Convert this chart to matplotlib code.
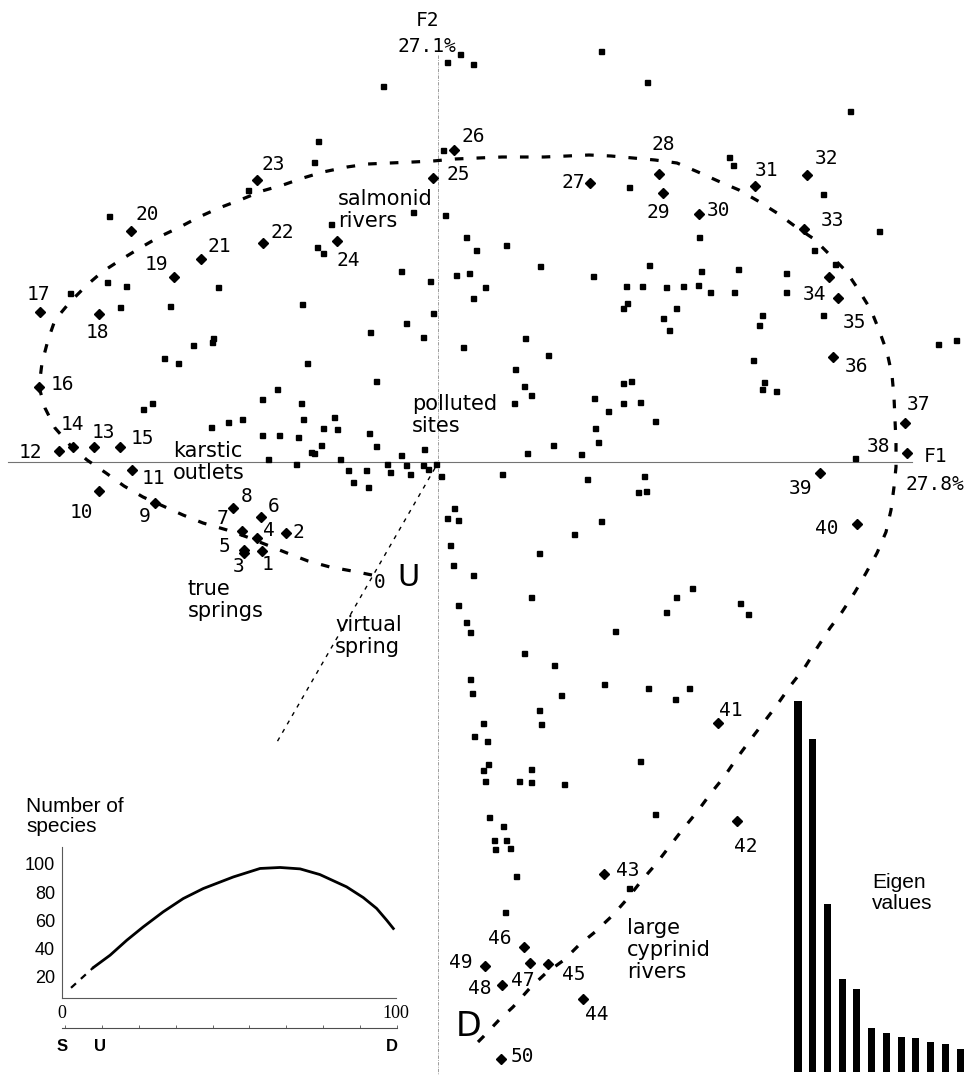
import numpy as np
import matplotlib
matplotlib.use("Agg")
import matplotlib.pyplot as plt
from matplotlib.ticker import MultipleLocator

# --- site scores on F1 / F2 (sites 1..50) ---
site_f1 = [-1.76, -1.52, -1.94, -1.81, -1.94, -1.77, -1.96, -2.05, -2.83, -3.39,
           -3.06, -3.79, -3.44, -3.65, -3.18, -3.99, -3.98, -3.39, -2.64, -3.07,
           -2.37, -1.75, -1.81, -1.01, -0.05, 0.16, 1.52, 2.21, 2.25, 2.61,
           3.17, 3.69, 3.66, 3.91, 4.00, 3.95, 4.67, 4.69, 3.82, 4.19,
           2.80, 2.99, 1.66, 1.45, 1.10, 0.86, 0.92, 0.64, 0.47, 0.63]
site_f2 = [-0.89, -0.71, -0.91, -0.76, -0.88, -0.55, -0.69, -0.46, -0.41, -0.29,
           -0.08, 0.11, 0.15, 0.15, 0.15, 0.75, 1.50, 1.48, 1.85, 2.31,
           2.03, 2.19, 2.82, 2.21, 2.84, 3.12, 2.79, 2.88, 2.69, 2.48,
           2.76, 2.87, 2.33, 1.85, 1.64, 1.05, 0.39, 0.09, -0.11, -0.62,
           -2.61, -3.59, -4.12, -5.37, -5.02, -4.85, -5.01, -5.23, -5.04, -5.97]

# label anchors for sites 0..50 (0 = virtual spring)
label_f1 = [-0.58, -1.70, -1.40, -1.99, -1.69, -2.13, -1.64, -2.16, -1.91, -2.93,
            -3.57, -2.85, -4.08, -3.35, -3.66, -2.96, -3.76, -4.00, -3.41, -2.82,
            -2.91, -2.19, -1.56, -1.65, -0.90, 0.20, 0.35, 1.35, 2.25, 2.20,
            2.80, 3.28, 3.89, 3.94, 3.77, 4.17, 4.18, 4.81, 4.41, 3.63,
            3.89, 2.93, 3.08, 1.90, 1.59, 1.36, 0.62, 0.85, 0.42, 0.23, 0.84]
label_f2 = [-1.21, -1.02, -0.71, -1.05, -0.69, -0.85, -0.44, -0.56, -0.35, -0.55,
            -0.50, -0.17, 0.09, 0.30, 0.38, 0.24, 0.78, 1.68, 1.30, 1.97,
            2.47, 2.15, 2.30, 2.97, 2.02, 2.87, 3.25, 2.80, 3.17, 2.50,
            2.51, 2.92, 3.04, 2.41, 1.67, 1.40, 0.95, 0.57, 0.15, -0.26,
            -0.67, -2.48, -3.85, -4.08, -5.53, -5.13, -4.76, -5.18, -5.26, -5.00, -5.95]

# --- species scores ---
species = [
    (-0.55, 3.76), (0.09, 4.00), (0.22, 4.08), (0.35, 3.98), (1.63, 4.11), (2.09, 3.80), (4.12, 3.51),
    (-1.20, 3.21), (-1.24, 3.00), (-1.90, 2.72), (0.05, 3.12), (-0.25, 2.50), (0.07, 2.47), (-1.07, 2.38),
    (-1.21, 2.15), (-1.15, 2.09), (-3.29, 2.46), (-3.31, 1.80), (-3.12, 1.76), (-3.68, 1.69), (-3.18, 1.55),
    (-2.68, 1.56), (-2.20, 1.75), (-1.36, 1.58), (-0.37, 1.91), (-0.08, 1.81), (0.28, 2.25), (0.38, 2.12),
    (0.68, 2.17), (0.18, 1.87), (0.31, 1.89), (0.47, 1.75), (0.35, 1.64), (-0.05, 1.49), (-0.68, 1.30),
    (-0.32, 1.39), (-0.15, 1.25), (-2.25, 1.24), (1.02, 1.96), (1.55, 1.86), (1.91, 2.75), (2.11, 1.97),
    (1.88, 1.76), (2.04, 1.76), (2.28, 1.75), (2.45, 1.76), (2.60, 1.77), (2.72, 1.70), (2.96, 1.70),
    (2.63, 1.91), (3.00, 1.93), (2.61, 2.25), (2.91, 3.05), (2.95, 2.97), (3.85, 2.68), (4.41, 2.31),
    (3.48, 1.89), (3.48, 1.70), (3.76, 2.12), (3.97, 1.98), (3.85, 1.47), (3.24, 1.47), (1.89, 1.59),
    (1.85, 1.54), (2.38, 1.54), (2.25, 1.44), (2.31, 1.32), (3.21, 1.37), (5.18, 1.22), (5.00, 1.18),
    (0.87, 1.24),
    (0.25, 1.15), (-2.45, 1.17), (-2.26, 1.20), (-2.74, 1.04), (-2.60, 0.99), (-1.31, 0.99), (-0.62, 0.81),
    (-2.95, 0.53), (-2.86, 0.59), (-2.27, 0.35), (-2.10, 0.40), (-1.96, 0.43), (-1.76, 0.63), (-1.61, 0.73),
    (-1.37, 0.59), (-1.35, 0.43), (-1.15, 0.34), (-1.04, 0.45), (-1.01, 0.33), (-1.76, 0.27), (-1.59, 0.27),
    (-1.40, 0.25), (-1.27, 0.10), (-1.24, 0.09), (-1.17, 0.17), (-0.69, 0.29), (-0.62, 0.16), (-0.37, 0.07),
    (-0.14, 0.13), (-1.70, 0.03), (-1.42, -0.02), (-0.98, 0.03), (-0.90, -0.08), (-0.72, -0.08), (-0.51, -0.02),
    (-0.48, -0.10), (-0.32, -0.03), (-0.28, -0.12), (-0.15, -0.03), (-0.10, -0.07), (-0.02, -0.02), (0.03, -0.14),
    (-0.85, -0.20), (-0.70, -0.25), (1.10, 1.07), (0.77, 0.93), (0.86, 0.76), (0.93, 0.67), (0.76, 0.59),
    (1.56, 0.64), (1.70, 0.51), (1.85, 0.79), (1.93, 0.81), (1.85, 0.59), (2.02, 0.60), (2.17, 0.41),
    (1.57, 0.34), (1.60, 0.20), (1.15, 0.17), (0.89, 0.09), (1.43, 0.08), (0.64, -0.12), (1.49, -0.17),
    (2.06, -0.14), (2.00, -0.30), (2.08, -0.29), (1.63, -0.59), (1.36, -0.72), (1.01, -0.91), (3.15, 1.02),
    (3.26, 0.80), (3.24, 0.73), (3.38, 0.71), (4.17, 0.04), (0.09, -0.56), (0.16, -0.46), (0.20, -0.58),
    (0.12, -0.83), (0.15, -1.03), (0.35, -1.13), (0.93, -1.35), (0.20, -1.43), (0.28, -1.60), (0.32, -1.70),
    (1.77, -1.69), (0.86, -1.91), (2.28, -1.50), (2.38, -1.35), (2.54, -1.26), (3.02, -1.41), (3.10, -1.52),
    (1.16, -2.03), (0.32, -2.17), (0.34, -2.31), (1.66, -2.22), (2.10, -2.26), (2.51, -2.26), (2.37, -2.37),
    (1.23, -2.33), (1.01, -2.48), (1.03, -2.62), (0.45, -2.61), (0.36, -2.74), (0.49, -2.79), (0.50, -3.02),
    (0.45, -3.08), (0.47, -3.19), (0.93, -3.07), (0.81, -3.19), (0.93, -3.20), (1.26, -3.22), (2.02, -2.99),
    (2.17, -3.52), (0.51, -3.55), (0.65, -3.64), (0.56, -3.78), (0.68, -3.78), (0.57, -3.87), (0.72, -3.86),
    (0.78, -4.14), (0.67, -4.50), (1.91, -4.26),
]
sp_f1 = [p[0] for p in species]
sp_f2 = [p[1] for p in species]

# --- upstream-downstream trajectory (from virtual spring 0 to D) ---
traj_f1 = [-0.66, -0.86, -1.08, -1.30, -1.51, -1.71, -1.91, -2.11, -2.35, -2.55, -2.75, -2.95, -3.14,
           -3.32, -3.51, -3.68, -3.83, -3.93, -3.99, -3.96, -3.90, -3.83, -3.68, -3.51, -3.36, -3.16,
           -2.98, -2.79, -2.58, -2.39, -2.19, -1.98, -1.76, -1.55, -1.35, -1.15, -0.91, -0.70, -0.48,
           -0.25, -0.05, 0.17, 0.40, 0.64, 0.84, 1.06, 1.29, 1.51, 1.73, 1.95, 2.17, 2.39, 2.60, 2.80,
           3.01, 3.20, 3.39, 3.58, 3.76, 3.92, 4.08, 4.20, 4.33, 4.41, 4.49, 4.54, 4.56, 4.57, 4.58,
           4.58, 4.56, 4.53, 4.48, 4.39, 4.28, 4.17, 4.04, 3.92, 3.79, 3.67, 3.53, 3.39, 3.26, 3.13,
           2.99, 2.86, 2.73, 2.59, 2.45, 2.31, 2.18, 2.04, 1.90, 1.75, 1.57, 1.41, 1.26, 1.08, 0.92,
           0.75, 0.61, 0.45, 0.37]
traj_f2 = [-1.13, -1.09, -1.05, -0.99, -0.91, -0.83, -0.75, -0.68, -0.61, -0.53, -0.44, -0.35, -0.24,
           -0.11, 0.02, 0.17, 0.34, 0.54, 0.75, 0.99, 1.22, 1.42, 1.60, 1.77, 1.90, 2.03,
           2.14, 2.25, 2.35, 2.45, 2.54, 2.62, 2.71, 2.77, 2.84, 2.90, 2.95, 2.98, 2.99,
           3.00, 3.01, 3.03, 3.04, 3.05, 3.05, 3.05, 3.06, 3.07, 3.06, 3.04, 3.02, 2.99, 2.90, 2.81,
           2.72, 2.61, 2.49, 2.35, 2.23, 2.07, 1.91, 1.73, 1.52, 1.32, 1.10, 0.87, 0.65, 0.42, 0.20,
           -0.05, -0.25, -0.48, -0.70, -0.91, -1.11, -1.30, -1.50, -1.66, -1.86, -2.05, -2.23, -2.43, -2.60, -2.77,
           -2.96, -3.15, -3.31, -3.50, -3.67, -3.85, -4.02, -4.18, -4.36, -4.53, -4.70, -4.83, -4.98, -5.11, -5.26,
           -5.45, -5.58, -5.75, -5.83]

# virtual spring direction
vs_f1 = [-0.03, -1.61]
vs_f2 = [-0.06, -2.80]

# --- eigenvalues ---
eigen = [0.371, 0.333, 0.168, 0.093, 0.083, 0.044, 0.039, 0.035, 0.034, 0.030, 0.028, 0.023]

# --- number of species along the river (0 = source, 100 = mouth) ---
dist_dashed = [2.7, 9.4]
rich_dashed = [12.3, 26.7]
dist = [9.4, 14.4, 19.4, 24.3, 30.3, 36.3, 42.3, 51.3, 59.3, 65.3, 71.3, 77.2, 85.2, 90.2, 94.2, 97.2, 99.2]
rich = [26.7, 35.4, 46.0, 55.4, 66.1, 75.5, 82.6, 90.8, 96.8, 97.5, 96.5, 92.5, 83.8, 76.2, 68.5, 60.2, 54.3]

W, H = 969, 1075
fig = plt.figure(figsize=(W / 100, H / 100), dpi=100)
ax = fig.add_axes([0, 0, 1, 1])
ax.set_xlim(-4.38, 5.31)
ax.set_ylim(-6.13, 4.62)
ax.axis("off")

mono = "DejaVu Sans Mono"
sans = "DejaVu Sans"

# axes of the factorial plane
ax.plot([-4.30, 4.74], [0, 0], color="0.45", lw=0.8)
ax.plot([0, 0], [4.07, -6.13], color="0.55", lw=0.6, ls=(0, (4, 1.5, 1, 1.5)))
ax.text(-0.10, 4.42, "F2", ha="center", va="center", fontsize=14, family=mono)
ax.text(-0.11, 4.15, "27.1%", ha="center", va="center", fontsize=14, family=mono)
ax.text(4.98, 0.05, "F1", ha="center", va="center", fontsize=14, family=mono)
ax.text(4.97, -0.23, "27.8%", ha="center", va="center", fontsize=14, family=mono)

# trajectory and virtual spring line
ax.plot(traj_f1, traj_f2, color="black", lw=2.3, ls=(0, (2.7, 4.1)))
ax.plot(vs_f1, vs_f2, color="black", lw=1.0, ls=(0, (3, 4)))

# points
ax.plot(sp_f1, sp_f2, ls="none", marker="s", ms=3.6, color="black")
ax.plot(site_f1, site_f2, ls="none", marker="D", ms=4.6, color="black")

for i, (lx, ly) in enumerate(zip(label_f1, label_f2)):
    ax.text(lx, ly, str(i), ha="center", va="center", fontsize=14, family=mono)

# annotations
note = dict(ha="left", va="center", fontsize=15, family=sans, linespacing=1.1)
ax.text(-1.00, 2.52, "salmonid\nrivers", **note)
ax.text(-2.65, 0.00, "karstic\noutlets", **note)
ax.text(-0.26, 0.47, "polluted\nsites", **note)
ax.text(-2.50, -1.38, "true\nsprings", **note)
ax.text(-1.03, -1.74, "virtual\nspring", **note)
ax.text(1.89, -4.88, "large\ncyprinid\nrivers", **note)
ax.text(4.34, -4.31, "Eigen\nvalues", ha="left", va="center", fontsize=15, family="Liberation Sans",
        linespacing=1.15)
ax.text(-0.30, -1.16, "U", ha="center", va="center", fontsize=22, family=sans)
ax.text(0.31, -5.65, "D", ha="center", va="center", fontsize=24, family=sans)
ax.text(-4.12, -3.545, "Number of\nspecies", ha="left", va="center", fontsize=15, family="Liberation Sans",
        linespacing=1.1)

# eigenvalue bar inset
axe = fig.add_axes([790 / W, 3 / H, 178 / W, 382 / H])
axe.patch.set_alpha(0)
axe.bar(np.arange(1, len(eigen) + 1), eigen, width=0.48, color="black")
axe.set_xlim(0.457, 12.54)
axe.set_ylim(0, 0.382)
axe.axis("off")

# species richness inset
axs = fig.add_axes([62 / W, (H - 998) / H, 334 / W, 151 / H])
axs.patch.set_alpha(0)
axs.plot(dist_dashed, rich_dashed, color="black", lw=1.6, ls=(0, (3, 3)))
axs.plot(dist, rich, color="black", lw=2.0, solid_joinstyle="round")
axs.set_xlim(0, 100)
axs.set_ylim(5.1, 112)
for s in ["top", "right"]:
    axs.spines[s].set_visible(False)
for s in ["left", "bottom"]:
    axs.spines[s].set_color("0.35")
    axs.spines[s].set_linewidth(0.8)
axs.set_yticks([20, 40, 60, 80, 100])
axs.set_yticklabels(["20", "40", "60", "80", "100"], family="Liberation Sans", fontsize=13)
axs.set_xticks([0, 100])
axs.set_xticklabels(["0", "100"], family="Liberation Serif", fontsize=13)
axs.tick_params(length=0, pad=5)

# source-upstream-downstream scale
axd = fig.add_axes([62 / W, (H - 1028) / H, 335 / W, 0.0005])
axd.patch.set_alpha(0)
axd.set_xlim(0, 100)
for s in ["top", "right", "left"]:
    axd.spines[s].set_visible(False)
axd.spines["bottom"].set_color("0.3")
axd.spines["bottom"].set_linewidth(0.8)
axd.set_yticks([])
axd.set_xticks([-1, 10.5, 98.5])
axd.set_xticklabels(["S", "U", "D"], fontsize=12, fontweight="bold", family="Liberation Sans")
axd.xaxis.set_minor_locator(MultipleLocator(11.1))
axd.tick_params(axis="x", which="major", length=0, pad=8)
axd.tick_params(axis="x", which="minor", direction="in", length=2, width=0.6, color="0.3")

fig.savefig("out.png", dpi=100)
